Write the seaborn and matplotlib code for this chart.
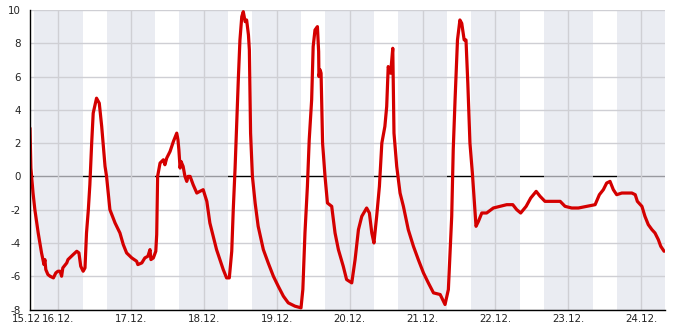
import matplotlib
matplotlib.use("Agg")
import matplotlib.pyplot as plt
from matplotlib.ticker import MultipleLocator
import numpy as np
import pandas as pd
import seaborn as sns

# hours since 15.12. 00:00
hours = [14.8, 15.1, 15.8, 16.4, 17.5, 18.6, 19.4, 19.7, 20.0, 20.7, 21.4, 22.5, 23.3, 24.0,
         24.7, 25.2, 25.6, 26.9, 27.3, 29.0, 30.2, 30.9, 31.5, 32.3, 32.9, 33.4, 34.0, 34.5,
         35.1, 35.6, 36.7, 37.6, 38.4, 39.5, 40.0, 41.1, 42.8, 44.4, 45.5, 46.6, 48.3, 49.9,
         50.3, 51.6, 52.6, 53.6, 54.3, 54.6, 55.4, 56.2, 56.5, 56.8, 57.6, 58.7, 59.2, 59.8,
         60.9, 62.0, 63.1, 63.5, 63.8, 64.2, 64.5, 65.2, 65.8, 66.4, 66.8, 67.5, 68.5, 69.7,
         70.7, 71.8, 73.0, 74.0, 75.1, 76.2, 77.3, 78.4, 79.5, 80.4, 81.2, 81.7, 82.3, 82.8,
         83.4, 83.9, 84.5, 85.0, 85.6, 86.1, 86.7, 87.0, 87.4, 88.0, 88.9, 89.9, 91.6, 93.2,
         94.9, 96.5, 98.2, 99.8, 102.0, 104.0, 104.6, 105.3, 106.1, 106.7, 107.5, 108.0,
         108.6, 109.4, 109.8, 109.9, 110.3, 110.6, 111.1, 111.9, 112.7, 114.1, 115.2, 116.3,
         117.9, 119.0, 120.7, 121.8, 122.9, 124.0, 125.6, 126.5, 127.3, 128.0, 128.9, 129.8,
         130.6, 131.6, 132.2, 132.7, 133.5, 134.2, 134.6, 135.5, 136.6, 137.7, 139.3, 141.0,
         142.6, 144.3, 145.9, 147.6, 149.8, 151.4, 152.5, 153.6, 154.1, 154.7, 155.5, 156.3,
         156.9, 157.7, 158.3, 158.9, 159.6, 160.4, 161.0, 161.6, 162.4, 163.5, 165.1, 167.3,
         169.5, 171.7, 173.7, 175.0, 176.3, 178.1, 179.6, 181.4, 182.7, 184.3, 186.0, 189.3,
         190.9, 193.1, 195.3, 198.1, 200.8, 202.2, 203.5, 204.6, 205.7, 206.8, 207.9, 209.6,
         212.9, 214.0, 214.7, 216.2, 217.2, 218.3, 219.5, 220.5, 221.6, 222.4, 223.5]
temps = [2.9, 0.5, -1.0, -2.0, -3.4, -4.6, -5.3, -5.0, -5.6, -5.9, -6.0, -6.1, -5.8, -5.7,
         -5.7, -6.0, -5.5, -5.2, -5.0, -4.7, -4.5, -4.6, -5.4, -5.7, -5.5, -3.4, -2.0, -0.5,
         2.0, 3.8, 4.7, 4.4, 3.0, 0.6, 0.0, -2.0, -2.8, -3.4, -4.1, -4.6, -4.9, -5.1,
         -5.3, -5.2, -4.9, -4.8, -4.4, -5.0, -4.9, -4.5, -3.5, 0.0, 0.8, 1.0, 0.7, 1.1,
         1.5, 2.1, 2.6, 2.2, 1.6, 0.5, 0.9, 0.6, 0.0, -0.3, 0.0, 0.0, -0.5, -1.0,
         -0.9, -0.8, -1.5, -2.8, -3.6, -4.4, -5.0, -5.6, -6.1, -6.1, -4.5, -2.0, 0.5, 3.0,
         6.0, 8.2, 9.6, 9.9, 9.3, 9.4, 8.5, 7.6, 2.6, 0.0, -1.6, -3.0, -4.4, -5.2,
         -6.0, -6.6, -7.2, -7.6, -7.8, -7.9, -6.8, -3.4, -0.6, 2.2, 4.6, 7.8,
         8.8, 9.0, 7.5, 6.0, 6.4, 6.2, 2.0, 0.0, -1.6, -1.8, -3.4, -4.4,
         -5.4, -6.2, -6.4, -5.0, -3.2, -2.4, -1.9, -2.2, -3.4, -4.0, -2.4, -0.6,
         2.0, 3.0, 4.2, 6.6, 6.2, 7.7, 2.6, 0.6, -1.0, -1.8, -3.2, -4.2,
         -5.0, -5.8, -6.4, -7.0, -7.1, -7.7, -6.8, -2.4, 1.6, 4.6, 8.2, 9.4,
         9.2, 8.2, 8.2, 5.6, 2.0, 0.2, -1.4, -3.0, -2.7, -2.2, -2.2, -1.9,
         -1.8, -1.7, -1.7, -2.0, -2.2, -1.8, -1.3, -0.9, -1.2, -1.5, -1.5, -1.5,
         -1.8, -1.9, -1.9, -1.8, -1.7, -1.1, -0.8, -0.4, -0.3, -0.8, -1.1, -1.0,
         -1.0, -1.1, -1.5, -1.8, -2.4, -2.9, -3.2, -3.4, -3.8, -4.2, -4.5]

# night periods (hours since 15.12. 00:00)
night_start = [16.0, 40.0, 64.0, 88.0, 112.0, 136.0, 160.0, 184.0, 208.0]
night_end = [32.1, 56.1, 80.1, 104.1, 128.1, 152.1, 176.1, 200.1, 224.1]

y_ticks = [-8, -6, -4, -2, 0, 2, 4, 6, 8, 10]
start_label = "15.12"
x_start_h = 14.8
x_end_h = 223.8
base = pd.Timestamp("2023-12-15")

df = pd.DataFrame({"time": base + pd.to_timedelta(hours, unit="h"), "temp": temps})

sns.set_style("white")
plt.rcParams["font.family"] = ["DejaVu Sans"]
plt.rcParams["axes.unicode_minus"] = False

FS = 7.4

fig = plt.figure(figsize=(6.85, 3.3), dpi=100)
ax = fig.add_axes([30 / 685, 20.5 / 330, 635 / 685, 299.5 / 330])

# zero line (dimmed by the night shading drawn above it)
ax.axhline(0, color="black", lw=1.0, zorder=0.6)

for s, e in zip(night_start, night_end):
    ax.axvspan(base + pd.Timedelta(hours=s), base + pd.Timedelta(hours=e),
               color=(225 / 255, 227 / 255, 236 / 255), alpha=0.68, lw=0, zorder=1)

sns.lineplot(data=df, x="time", y="temp", ax=ax, color="#D40000", linewidth=2.3,
             zorder=3, legend=False)

ax.set_xlim(base + pd.Timedelta(hours=x_start_h), base + pd.Timedelta(hours=x_end_h))
ax.set_ylim(-8, 10)

ax.set_axisbelow("line")
ax.set_yticks(y_ticks)
ax.set_yticklabels([str(v) for v in y_ticks])
ax.yaxis.set_minor_locator(MultipleLocator(1))
ax.grid(True, which="major", color="#cfcfd4", lw=1.0)
for t, v in zip(ax.yaxis.get_major_ticks(), y_ticks):
    if v == 0:
        t.gridline.set_visible(False)

day_ticks = [base + pd.Timedelta(days=d) for d in range(1, 10)]
ax.set_xticks(day_ticks)
ax.set_xticklabels([t.strftime("%d.%m.") for t in day_ticks])

# label for the start of the record, at the left edge of the axis
ax.annotate(start_label, xy=(0, 0), xycoords="axes fraction", xytext=(7.9, -3.6),
            textcoords="offset points", ha="right", va="top", fontsize=FS,
            color="#222222")

ax.set_xlabel("")
ax.set_ylabel("")
for side in ["top", "right"]:
    ax.spines[side].set_visible(False)
for side in ["left", "bottom"]:
    ax.spines[side].set_color("black")
    ax.spines[side].set_linewidth(1.0)
    ax.spines[side].set_zorder(4)

ax.tick_params(axis="y", which="both", direction="in", length=2.3, width=0.8,
               color="black", labelsize=FS, labelcolor="#222222", pad=6.5)
ax.tick_params(axis="x", which="major", direction="in", length=3, width=0.8,
               color="#333333", labelsize=FS, labelcolor="#222222", pad=3.6)

fig.savefig("out.png", dpi=100)
